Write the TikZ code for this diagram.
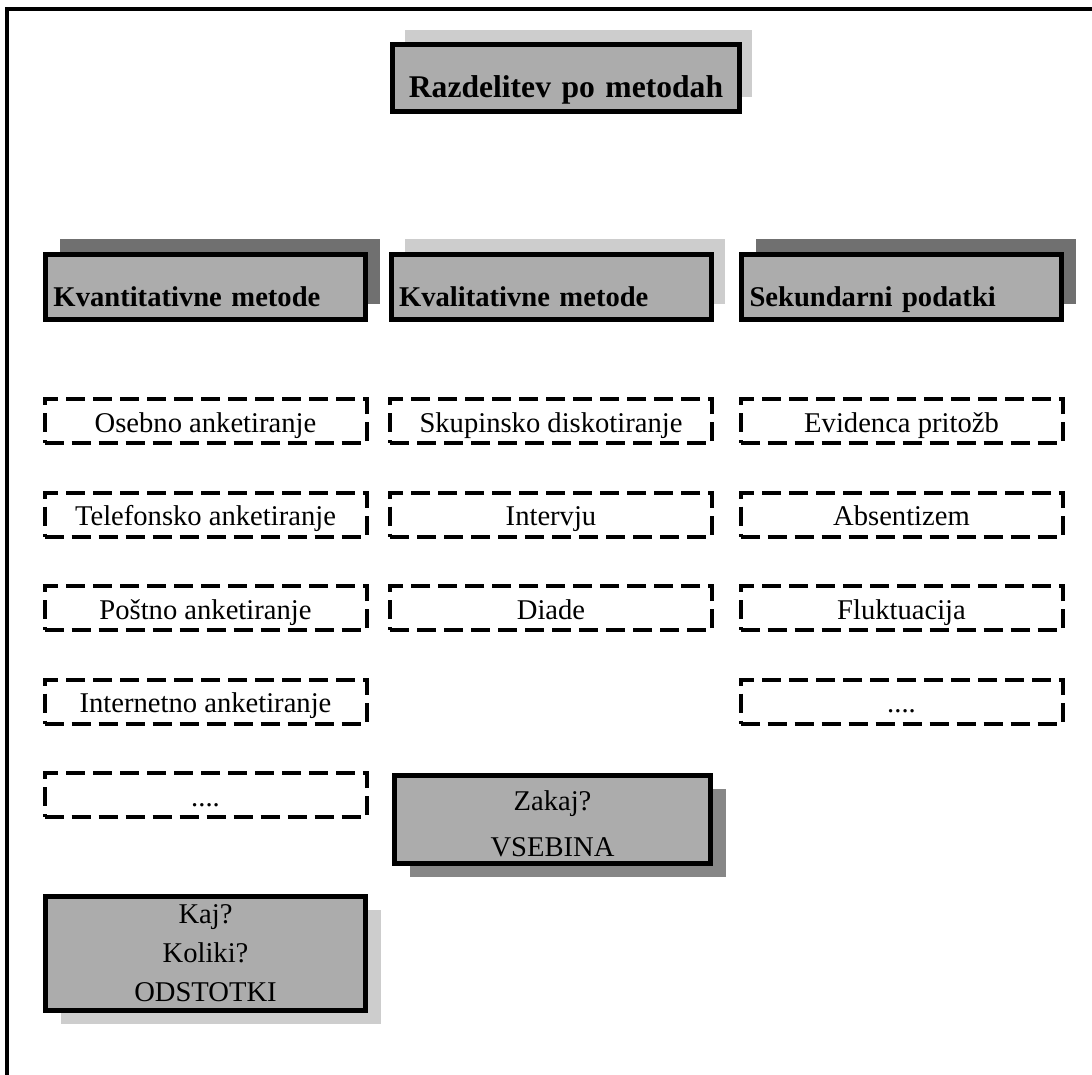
\documentclass[tikz,border=0pt]{standalone}
\usepackage{fontspec}
\setmainfont{Liberation Serif}
\usepackage{tikz}
\usetikzlibrary{shadows}
\usepackage{xcolor}
\definecolor{boxgray}{RGB}{172,172,172}
\definecolor{shadowdark}{RGB}{112,112,112}
\definecolor{shadowmid}{RGB}{135,135,135}
\definecolor{shadowlight}{RGB}{205,205,205}
\newcommand{\moredots}{....}

\tikzset{
  shadowup/.style={drop shadow={shadow xshift=7pt,shadow yshift=7.5pt,fill=#1,opacity=1}},
  shadowdown/.style={drop shadow={shadow xshift=7.5pt,shadow yshift=-6.5pt,fill=#1,opacity=1}},
  titlebox/.style={draw,fill=boxgray,line width=2.5pt,inner xsep=4pt,inner ysep=0pt,
    text width=165.5pt,align=center,text height=26.3pt,text depth=7.2pt,
    font=\fontsize{15.8}{19}\selectfont\bfseries},
  headbox/.style={draw,fill=boxgray,line width=2.5pt,inner xsep=4pt,inner ysep=0pt,
    text width=152pt,align=left,text height=26pt,text depth=6.5pt,
    font=\fontsize{14.3}{17}\selectfont\bfseries},
  dashbox/.style={draw,dash pattern=on 9.5pt off 4pt,line width=2pt,
    minimum width=161pt,minimum height=22pt,inner sep=0pt,
    text height=11pt,text depth=0pt,
    font=\fontsize{14.3}{17}\selectfont},
  ansbox/.style={draw,fill=boxgray,line width=2.5pt,inner sep=0pt,align=center}
}

\begin{document}
\begin{tikzpicture}[x=0.5pt,y=-0.5pt]
\useasboundingbox (0,0) rectangle (1092,1075);
% open frame (left and top edges only)
\draw[line width=2pt] (1092,9) -- (7,9) -- (7,1075);

% TOP: title
\node[titlebox,drop shadow={shadow xshift=6pt,shadow yshift=7pt,fill=shadowlight,opacity=1}] (title) at (566,78) {Razdelitev po metodah};

% HEADERS: three groups of methods
\node[headbox,shadowup=shadowdark] (kvan) at (205.5,287) {Kvantitativne metode};
\node[headbox,shadowup=shadowlight] (kval) at (551,287) {Kvalitativne metode};
\node[headbox,shadowup=shadowdark] (seku) at (901.5,287) {Sekundarni podatki};

% LEFT column
\foreach \txt [count=\i] in {Osebno anketiranje,Telefonsko anketiranje,Poštno anketiranje,Internetno anketiranje,\moredots} {
  \node[dashbox] (kvan\i) at (205.5,{421+93.5*(\i-1)}) {\txt};
}
% MIDDLE column
\foreach \txt [count=\i] in {Skupinsko diskotiranje,Intervju,Diade} {
  \node[dashbox] (kval\i) at (551,{421+93.5*(\i-1)}) {\txt};
}
% RIGHT column
\foreach \txt [count=\i] in {Evidenca pritožb,Absentizem,Fluktuacija,\moredots} {
  \node[dashbox] (seku\i) at (901.5,{421+93.5*(\i-1)}) {\txt};
}

% BOTTOM: what the methods give
\node[ansbox,shadowdown=shadowmid,minimum width=158pt,minimum height=44pt,
  font=\fontsize{14.3}{23}\selectfont] (zakaj) at (552.5,819.5) {\rule{0pt}{14.5pt}Zakaj?\\VSEBINA};
\node[ansbox,shadowdown=shadowlight,minimum width=160pt,minimum height=57pt,
  font=\fontsize{14.3}{19.5}\selectfont] (kaj) at (205.5,953.5) {Kaj?\\Koliki?\\ODSTOTKI};

\end{tikzpicture}
\end{document}
